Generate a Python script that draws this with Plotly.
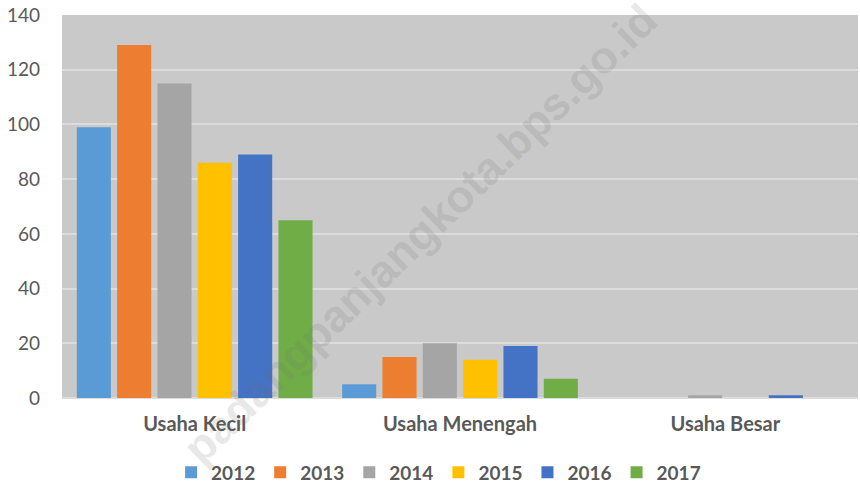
import plotly.graph_objects as go

categories = ["Usaha Kecil", "Usaha Menengah", "Usaha Besar"]
years = ["2012", "2013", "2014", "2015", "2016", "2017"]
v2012 = [99, 5, 0]
v2013 = [129, 15, 0]
v2014 = [115, 20, 1]
v2015 = [86, 14, 0]
v2016 = [89, 19, 1]
v2017 = [65, 7, 0]
series = [v2012, v2013, v2014, v2015, v2016, v2017]
colors = ["#5B9BD5", "#ED7D31", "#A5A5A5", "#FFC000", "#4472C4", "#70AD47"]

fig = go.Figure()
for y, vals, c in zip(years, series, colors):
    fig.add_trace(go.Bar(x=categories, y=vals, name=y, marker=dict(color=c, line=dict(width=0))))

fig.update_layout(
    width=860, height=484,
    margin=dict(l=62, r=2, t=15, b=86, autoexpand=False),
    paper_bgcolor="white",
    plot_bgcolor="#C9C9C9",
    barmode="group",
    bargap=0.088,
    bargroupgap=0.155,
    font=dict(family="Lato, Carlito, sans-serif", color="#595959"),
    xaxis=dict(
        tickfont=dict(size=20, color="#595959", family="Lato, sans-serif", weight="bold"),
        showgrid=False, showline=False, ticks="", ticklabelstandoff=12, automargin=False,
    ),
    yaxis=dict(
        range=[0, 140], dtick=20, tickfont=dict(size=19, color="#595959"),
        gridcolor="#DCDCDC", gridwidth=1.5, zeroline=True, zerolinecolor="#DCDCDC", zerolinewidth=2,
        ticks="", ticklabelstandoff=21, automargin=False,
    ),
    legend=dict(
        orientation="h", x=0.51, xanchor="center", xref="container",
        y=0.024, yanchor="middle", yref="container",
        font=dict(size=19, color="#595959", weight="bold"),
        itemwidth=30, traceorder="normal",
    ),
    annotations=[dict(
        text="<b>padangpanjangkota.bps.go.id</b>", xref="paper", yref="paper",
        x=0.45, y=0.43, showarrow=False, textangle=-44,
        font=dict(size=45, family="Liberation Sans, Arial, sans-serif", color="rgba(110,110,110,0.17)"),
    )],
)

fig.write_html("out.html", config={"displayModeBar": False},
               post_script="document.body.style.margin='0';document.body.style.padding='0';")
